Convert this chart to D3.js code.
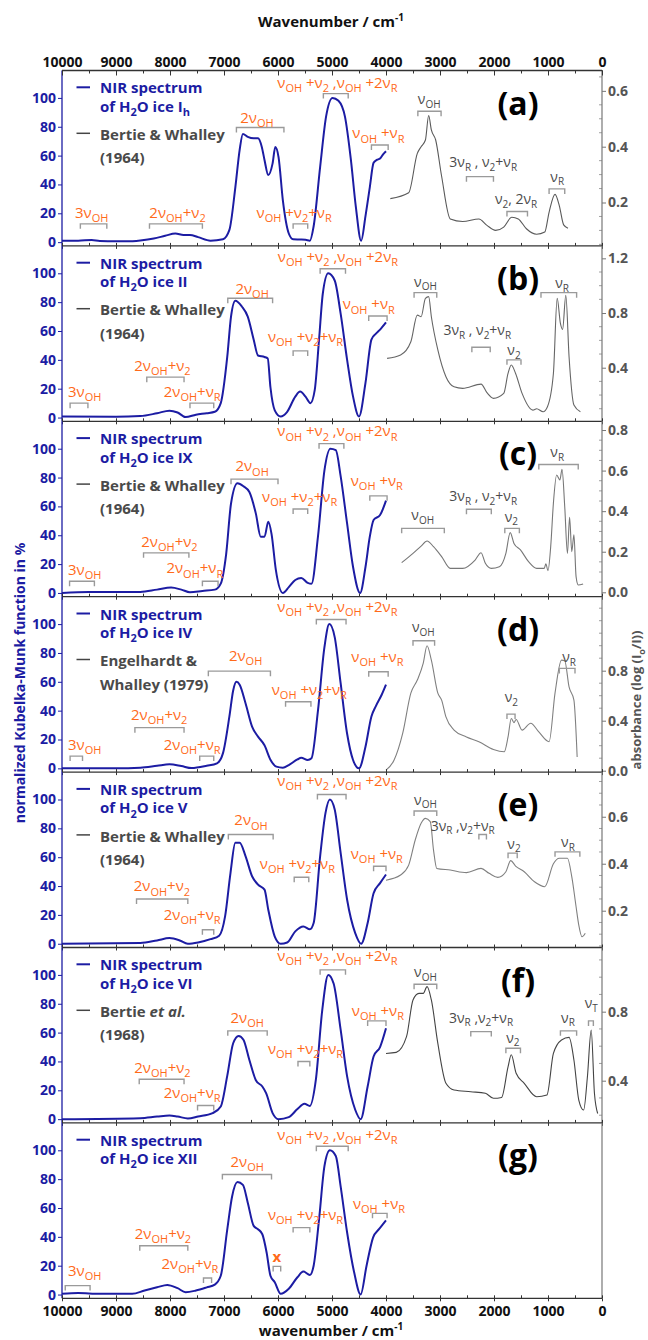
<!DOCTYPE html>
<html><head><meta charset="utf-8">
<script src="https://cdn.jsdelivr.net/npm/d3@7"></script>
<style>body{margin:0;background:#fff}svg{display:block}text{font-family:"Open Sans",sans-serif;white-space:pre}</style>
</head><body><svg id="c" width="648" height="1340"></svg>
<script>
// ---------- DATA ----------
const wavenumberTicks = [10000,9000,8000,7000,6000,5000,4000,3000,2000,1000,0];
const kmTicks = [0,20,40,60,80,100];
const panelLetters = ["(a)","(b)","(c)","(d)","(e)","(f)","(g)"];
const iceNames = ["I_{h}","II","IX","IV","V","VI","XII"];
const refNames = [["Bertie & Whalley","(1964)"],["Bertie & Whalley","(1964)"],["Bertie & Whalley","(1964)"],["Engelhardt &","Whalley (1979)"],["Bertie & Whalley","(1964)"],["Bertie *et al.*","(1968)"],null];

const nirA=[[10000,1],[9700,1],[9450,1.5],[9300,0.8],[9000,0.6],[8800,0.6],[8550,1.2],[8300,2.5],[8090,4.4],[7900,6],[7750,5],[7630,5],[7480,3.5],[7250,1],[7020,2],[6900,8.5],[6790,38],[6710,64],[6650,75],[6560,73],[6450,72],[6370,72],[6300,66],[6250,57],[6180,46.5],[6100,54.6],[6050,66],[5990,59],[5910,29],[5800,6],[5720,2],[5600,1.8],[5490,1.6],[5410,1],[5340,11],[5220,52],[5110,87],[4990,100],[4880,98],[4760,87],[4650,57],[4560,25],[4460,1],[4380,18],[4300,38],[4230,55],[4170,57],[4110,58],[4050,61],[4000,63]];
const nirB=[[10000,0.7],[9000,0.5],[8550,1],[8240,3],[8010,4.8],[7860,3.5],[7710,0.3],[7520,2],[7320,3],[7170,4],[7060,10],[6940,42],[6870,70],[6790,81],[6670,77],[6560,70],[6450,54],[6370,43],[6250,42],[6190,41],[6140,21],[6060,5],[5950,0.7],[5830,4],[5680,14.5],[5590,18],[5490,14.5],[5400,10],[5320,19],[5240,54],[5170,86],[5070,100],[4950,95],[4840,72],[4720,40],[4610,14.5],[4500,0.7],[4380,24],[4270,54],[4190,58],[4110,61],[4000,66]];
const nirC=[[10000,0],[9500,0.7],[8550,0.7],[8240,2.3],[7980,3.7],[7790,2.3],[7630,0.5],[7400,1.4],[7170,2.3],[7060,6.5],[6960,27],[6870,62],[6750,76],[6640,74],[6530,70],[6410,55],[6320,39],[6250,39],[6180,49.4],[6120,41],[6040,16],[5910,0],[5800,4],[5680,9],[5570,10.4],[5450,7],[5380,6.3],[5260,39],[5140,85],[5030,100],[4930,99],[4840,81],[4720,48],[4610,18],[4480,0],[4380,18],[4300,39],[4230,50.6],[4110,54],[4000,64]];
const nirD=[[10000,0],[9000,0],[8550,0.5],[8240,1.8],[8010,2.8],[7790,1.6],[7600,0.2],[7320,1.8],[7130,3.5],[7020,10.4],[6900,36],[6830,54],[6770,60],[6710,58],[6600,45],[6480,29],[6370,22],[6250,16],[6140,6],[6030,1.2],[5910,0.5],[5800,2.3],[5640,6.2],[5570,7.4],[5450,5.8],[5380,7],[5260,40],[5140,84],[5050,100],[4950,91],[4840,59],[4720,24],[4610,5.8],[4500,0],[4380,15],[4270,36],[4190,43],[4080,51],[4000,58]];
const nirE=[[10000,0],[8550,0.5],[8240,2.3],[8010,3.9],[7820,2.3],[7670,0],[7480,0.9],[7250,3.2],[7090,5.6],[6980,19],[6880,49],[6790,70],[6710,70],[6600,60.6],[6480,46.8],[6370,41],[6250,37.5],[6180,23.6],[6060,5],[5950,0],[5830,0.9],[5680,8.6],[5530,12],[5410,10],[5340,14.4],[5220,60.6],[5120,90.7],[5040,100],[4950,93],[4840,63],[4720,30.5],[4570,7.4],[4460,0],[4340,14.4],[4230,35],[4110,42],[4000,48]];
const nirF=[[10000,0],[8550,0.7],[8240,1.8],[8010,2.5],[7860,1.8],[7670,0.5],[7480,1.8],[7210,4.2],[7060,8.8],[6940,30],[6830,52.6],[6730,57.7],[6640,55],[6530,41],[6410,27],[6290,22.6],[6220,18],[6100,4.2],[5990,0],[5800,1.4],[5640,7],[5510,10.6],[5410,9.2],[5300,27],[5180,75.8],[5070,100],[4970,94],[4840,62],[4720,29.6],[4570,6.5],[4470,0],[4340,22.6],[4230,43.4],[4110,50],[4000,63]];
const nirG=[[10000,0.5],[9700,1],[9300,0.5],[8700,0.5],[8470,2.8],[8240,5],[8050,6.7],[7860,4.4],[7710,1.6],[7520,2.8],[7320,5],[7170,6.9],[7060,13],[6940,45],[6850,68],[6750,78],[6650,76],[6560,63.7],[6450,47.6],[6370,45.3],[6290,41.8],[6210,29],[6140,13],[6060,8.5],[5950,0.5],[5800,4],[5640,12],[5530,15.9],[5410,13.6],[5340,20],[5240,52],[5140,89],[5040,100],[4930,96],[4840,75],[4720,43],[4590,15.4],[4470,0],[4360,20],[4240,39.5],[4130,45.3],[4000,51.5]];

const refA=[[3920,0.214],[3580,0.235],[3420,0.376],[3350,0.4],[3270,0.424],[3210,0.512],[3160,0.46],[3080,0.424],[2970,0.294],[2810,0.141],[2580,0.132],[2280,0.141],[2130,0.118],[1970,0.1],[1820,0.112],[1670,0.147],[1550,0.141],[1400,0.106],[1210,0.086],[1060,0.094],[980,0.165],[870,0.229],[790,0.188],[710,0.12],[630,0.108]];
const refB=[[3980,0.468],[3730,0.493],[3540,0.59],[3420,0.785],[3350,0.773],[3270,0.907],[3210,0.92],[3160,0.773],[3040,0.53],[2890,0.334],[2740,0.26],[2580,0.249],[2240,0.28],[2130,0.217],[2010,0.176],[1820,0.212],[1740,0.358],[1680,0.42],[1600,0.358],[1480,0.212],[1280,0.09],[1210,0.1],[1090,0.078],[1010,0.115],[900,0.358],[830,0.907],[770,0.724],[730,0.68],[670,0.93],[610,0.48],[520,0.127],[400,0.078]];
const refC=[[3710,0.146],[3500,0.192],[3350,0.228],[3240,0.253],[3120,0.225],[2970,0.176],[2810,0.118],[2580,0.118],[2350,0.159],[2240,0.195],[2160,0.143],[2050,0.118],[1900,0.126],[1780,0.192],[1700,0.294],[1630,0.241],[1510,0.209],[1360,0.151],[1210,0.118],[1070,0.118],[1040,0.14],[1000,0.107],[950,0.225],[900,0.439],[840,0.578],[780,0.554],[740,0.606],[690,0.422],[640,0.192],[600,0.37],[560,0.2],[520,0.283],[480,0.077],[440,0.036],[350,0.041]];
const refD=[[4000,0.005],[3850,0.085],[3690,0.3],[3540,0.62],[3420,0.725],[3310,0.86],[3240,1.0],[3160,0.885],[3040,0.62],[2970,0.565],[2890,0.43],[2740,0.325],[2510,0.27],[2280,0.232],[2010,0.17],[1810,0.152],[1740,0.27],[1680,0.418],[1630,0.384],[1590,0.41],[1480,0.325],[1320,0.38],[1170,0.31],[980,0.232],[870,0.62],[750,0.885],[690,0.88],[610,0.67],[520,0.565],[460,0.11]];
const refE=[[4000,0.33],[3730,0.352],[3580,0.394],[3460,0.5],[3350,0.572],[3270,0.593],[3180,0.579],[3120,0.458],[3060,0.38],[2810,0.373],[2510,0.362],[2240,0.38],[2090,0.359],[1930,0.342],[1780,0.366],[1690,0.413],[1600,0.39],[1440,0.366],[1250,0.323],[1060,0.302],[900,0.4],[790,0.423],[640,0.423],[560,0.345],[480,0.217],[430,0.139],[370,0.089],[310,0.104]];
const refF=[[4000,0.558],[3810,0.564],[3620,0.655],[3500,0.868],[3390,0.906],[3310,0.906],[3240,0.945],[3160,0.868],[3040,0.616],[2890,0.385],[2740,0.346],[2430,0.336],[2160,0.327],[2010,0.298],[1860,0.303],[1740,0.48],[1680,0.55],[1590,0.443],[1440,0.385],[1210,0.307],[1020,0.317],[900,0.558],[750,0.636],[610,0.651],[520,0.52],[430,0.288],[340,0.23],[270,0.423],[200,0.694],[140,0.327],[80,0.21]];

const absDomains=[[0.0445,0.673],[0.008,1.291],[-0.0217,0.843],[-0.0112,1.392],[0.0434,0.79],[0.1554,1.172],null];
const absTicks=[[0.2,0.4,0.6],[0.4,0.8,1.2],[0,0.2,0.4,0.6,0.8],[0,0.4,0.8],[0.2,0.4,0.6],[0.4,0.8],null];
const absMinorStep=[0.05,0.1,0.05,0.1,0.05,0.1,null];

// annotations: [label, centre wavenumber, baseline value (KM scale), bracket w1, bracket w2, bracket value, assignment source]
const annA=[["3ν_{OH}",9450,16.6,9660,9170,12.7,"nir"],["2ν_{OH}+ν_{2}",7860,16.6,8380,7400,12.7,"nir"],["ν_{OH} +ν_{2}+ν_{R}",5700,16.6,5720,5450,12.7,"nir"],["2ν_{OH}",6390,82.7,6770,5890,79.5,"nir"],["ν_{OH} +ν_{2} ,ν_{OH} +2ν_{R}",4900,107,5160,4700,103,"nir"],["ν_{OH} +ν_{R}",4140,71.9,4270,3960,67.3,"nir"],
  ["ν_{OH}",3200,95.6,3410,2980,90.8,"ref"],["3ν_{R} , ν_{2}+ν_{R}",2200,52.3,2510,2010,45.4,"ref"],["ν_{2}, 2ν_{R}",1590,26.5,1760,1380,21.2,"ref"],["ν_{R}",830,42,980,690,36.9,"ref"]];
const annB=[["3ν_{OH}",9580,14.5,9850,9520,10,"nir"],["2ν_{OH}+ν_{2}",8140,32.3,8430,7740,28,"nir"],["2ν_{OH}+ν_{R}",7590,14.5,7630,7190,10,"nir"],["2ν_{OH}",6480,86,6930,6100,82.7,"nir"],["ν_{OH} +ν_{2}+ν_{R}",5490,52.7,5720,5450,46.2,"nir"],["ν_{OH} +ν_{2} ,ν_{OH} +2ν_{R}",4890,108,5220,4750,103.2,"nir"],["ν_{OH} +ν_{R}",4320,75,4320,3980,70.4,"nir"],
  ["ν_{OH}",3270,90.8,3480,3060,86.6,"ref"],["3ν_{R} , ν_{2}+ν_{R}",2310,57.3,2410,2070,48.7,"ref"],["ν_{2}",1630,43.4,1760,1500,40,"ref"],["ν_{R}",740,90,1130,470,86.6,"ref"]];
const annC=[["3ν_{OH}",9580,12.3,9860,9400,8.1,"nir"],["2ν_{OH}+ν_{2}",8010,32,8490,7650,27.8,"nir"],["2ν_{OH}+ν_{R}",7540,13.5,7400,7110,8.1,"nir"],["2ν_{OH}",6480,84.2,6870,6000,78.9,"nir"],["ν_{OH} +ν_{2}+ν_{R}",5600,63.3,5720,5450,58.2,"nir"],["ν_{OH} +ν_{2} ,ν_{OH} +2ν_{R}",4900,108.5,5240,4780,103.5,"nir"],["ν_{OH} +ν_{R}",4170,74.2,4300,3980,67.3,"nir"],
  ["ν_{OH}",3320,50.6,3710,2920,44.8,"ref"],["3ν_{R} , ν_{2}+ν_{R}",2200,63.5,2510,2050,58,"ref"],["ν_{2}",1680,49.5,1800,1530,44.8,"ref"],["ν_{R}",830,94.2,1170,440,89,"ref"]];
const annD=[["3ν_{OH}",9580,12.7,9850,9620,8.5,"nir"],["2ν_{OH}+ν_{2}",8200,33.5,8650,7740,28.2,"nir"],["2ν_{OH}+ν_{R}",7590,12.7,7450,7190,8.5,"nir"],["2ν_{OH}",6600,74.6,7290,6140,67.4,"nir"],["ν_{OH} +ν_{2}+ν_{R}",5420,50.8,5860,5390,46.2,"nir"],["ν_{OH} +ν_{2} ,ν_{OH} +2ν_{R}",4900,108.5,5290,4740,103.2,"nir"],["ν_{OH} +ν_{R}",4160,73.9,4320,3960,67,"nir"],
  ["ν_{OH}",3310,94.2,3500,3100,88.5,"ref"],["ν_{2}",1680,46.2,1760,1610,37.6,"ref"],["ν_{R}",610,73.9,790,500,69.3,"ref"]];
const annE=[["2ν_{OH}+ν_{2}",8150,36.3,8620,7670,31,"nir"],["2ν_{OH}+ν_{R}",7590,16.7,7400,7190,9.7,"nir"],["2ν_{OH}",6500,82,6920,6090,75.7,"nir"],["ν_{OH} +ν_{2}+ν_{R}",5640,51.9,5700,5430,46.1,"nir"],["ν_{OH} +ν_{2} ,ν_{OH} +2ν_{R}",4900,109.5,5270,4740,103.5,"nir"],["ν_{OH} +ν_{R}",4170,59,4230,4000,53.7,"nir"],
  ["ν_{OH}",3270,96.5,3480,3060,92,"ref"],["3ν_{R} ,ν_{2}+ν_{R}",2580,78.5,2280,2140,75.7,"ref"],["ν_{2}",1630,66,1740,1570,62.8,"ref"],["ν_{R}",630,67.1,870,410,63.7,"ref"]];
const annF=[["2ν_{OH}+ν_{2}",8140,31.9,8570,7740,27.7,"nir"],["2ν_{OH}+ν_{R}",7590,14.5,7490,7190,9.5,"nir"],["2ν_{OH}",6570,67,6930,6200,61.2,"nir"],["ν_{OH} +ν_{2}+ν_{R}",5490,45.3,5630,5410,40,"nir"],["ν_{OH} +ν_{2} ,ν_{OH} +2ν_{R}",4900,109.5,5220,4750,103.5,"nir"],["ν_{OH} +ν_{R}",4150,71.6,4340,4000,68.1,"nir"],
  ["ν_{OH}",3270,98.4,3480,3060,93.5,"ref"],["3ν_{R} ,ν_{2}+ν_{R}",2240,67,2430,2050,60.7,"ref"],["ν_{2}",1650,53.1,1780,1510,49.2,"ref"],["ν_{R}",630,67,770,470,61.2,"ref"],["ν_{T}",200,76.9,250,160,68.1,"ref"]];
const annG=[["3ν_{OH}",9580,13.1,9940,9480,6.2,"nir"],["2ν_{OH}+ν_{2}",8130,38.4,8560,7670,33.8,"nir"],["2ν_{OH}+ν_{R}",7630,17.7,7380,7230,11.5,"nir"],["2ν_{OH}",6570,88.5,7030,6120,83.2,"nir"],["x",6020,22.8,6090,5950,19.5,"nir"],["ν_{OH} +ν_{2}+ν_{R}",5490,51.7,5720,5410,46.4,"nir"],["ν_{OH} +ν_{2} ,ν_{OH} +2ν_{R}",4900,107,5290,4700,102.8,"nir"],["ν_{OH} +ν_{R}",4130,59.5,4250,3980,56.3,"nir"]];

const nirSeries=[nirA,nirB,nirC,nirD,nirE,nirF,nirG];
const refSeries=[refA,refB,refC,refD,refE,refF,null];
const annotations=[annA,annB,annC,annD,annE,annF,annG];

// ---------- DRAW ----------
const BLUE="#1c1ca3", ORANGE="#ff6a1a", GREYTXT="#4a4a4a";
const refColors=["#5a5a5a","#666","#777","#808080","#808080","#444"];
const svg=d3.select("#c");
const L=62,R=602,T=70.5,PH=175.4;
const x=d3.scaleLinear().domain([10000,0]).range([L,R]);
const fmtW=d3.format("d");

function rich(sel,str,size,sub){
  const re=/([_^])\{([^}]*)\}|\*([^*]*)\*/g; let last=0,m,parts=[];
  while((m=re.exec(str))){ if(m.index>last) parts.push({t:str.slice(last,m.index),k:""});
    if(m[3]!==undefined) parts.push({t:m[3],k:"i"}); else parts.push({t:m[2],k:m[1]}); last=re.lastIndex; }
  if(last<str.length) parts.push({t:str.slice(last),k:""});
  let cur=0;
  parts.forEach(p=>{const tgt=p.k==="_"?size*0.28:p.k==="^"?-size*0.42:0;
    const ts=sel.append("tspan").attr("dy",tgt-cur).attr("font-size",(p.k==="_"||p.k==="^")?sub:size).text(p.t);
    if(p.k==="i") ts.attr("font-style","italic");
    cur=tgt;});
}

nirSeries.forEach((nir,i)=>{
  const y0=T+i*PH, y1=y0+PH;
  const yL=d3.scaleLinear().domain([-2.6,119]).range([y1,y0]);
  const g=svg.append("g");
  const cid="clip"+i;
  svg.append("clipPath").attr("id",cid).append("rect").attr("x",L).attr("y",y0).attr("width",R-L).attr("height",PH);

  if(refSeries[i]){
    const yR=d3.scaleLinear().domain(absDomains[i]).range([y1,y0]);
    g.append("path").datum(refSeries[i]).attr("clip-path",`url(#${cid})`)
      .attr("fill","none").attr("stroke",refColors[i]).attr("stroke-width",1.1)
      .attr("d",d3.line().x(d=>x(d[0])).y(d=>yR(d[1])).curve(d3.curveMonotoneX));
    const ax=g.append("g").attr("transform",`translate(${R},0)`)
      .call(d3.axisRight(yR).tickValues(absTicks[i]).tickFormat(d3.format(".1f")).tickSize(4).tickPadding(2));
    ax.select(".domain").remove();
    ax.selectAll("line").attr("stroke","#777");
    ax.selectAll("text").attr("fill","#555").attr("font-weight","bold").attr("font-size",14).attr("font-family","Open Sans");
    const st=absMinorStep[i], dmn=absDomains[i];
    const minors=d3.range(Math.ceil(dmn[0]/st)*st,dmn[1],st).filter(v=>!absTicks[i].some(t=>Math.abs(t-v)<1e-6));
    g.selectAll(null).data(minors).join("line").attr("x1",R-3).attr("x2",R)
      .attr("y1",d=>yR(d)).attr("y2",d=>yR(d)).attr("stroke","#888").attr("stroke-width",0.8);
  }

  g.append("path").datum(nir).attr("clip-path",`url(#${cid})`)
    .attr("fill","none").attr("stroke",BLUE).attr("stroke-width",2)
    .attr("d",d3.line().x(d=>x(d[0])).y(d=>yL(d[1])).curve(d3.curveMonotoneX));

  annotations[i].forEach(a=>{
    const [lab,wc,vb,w1,w2,vbr,src]=a;
    const by=yL(vbr);
    g.append("path").attr("d",`M${x(w1)},${by+5}V${by}H${x(w2)}V${by+5}`)
      .attr("fill","none").attr("stroke","#9a9a9a").attr("stroke-width",1.4);
    const t=g.append("text").attr("x",x(wc)).attr("y",yL(vb)).attr("text-anchor","middle")
      .attr("fill",src==="nir"?ORANGE:GREYTXT).attr("font-weight",lab==="x"?"bold":"normal");
    if(src==="nir") rich(t,lab,15,11); else rich(t,lab,14,10);
  });

  g.append("line").attr("x1",76.5).attr("x2",90).attr("y1",y0+16.8).attr("y2",y0+16.8).attr("stroke",BLUE).attr("stroke-width",2);
  g.append("text").attr("x",100).attr("y",y0+22.8).attr("fill",BLUE).attr("font-weight","bold").attr("font-size",15).text("NIR spectrum");
  const t2=g.append("text").attr("x",100).attr("y",y0+41.2).attr("fill",BLUE).attr("font-weight","bold");
  rich(t2,"of H_{2}O ice "+iceNames[i],15,11);
  if(refNames[i]){
    g.append("line").attr("x1",76.5).attr("x2",90).attr("y1",y0+62.8).attr("y2",y0+62.8).attr("stroke","#444").attr("stroke-width",1.5);
    const t3=g.append("text").attr("x",100).attr("y",y0+69.5).attr("fill",GREYTXT).attr("font-weight","bold");
    rich(t3,refNames[i][0],15,11);
    g.append("text").attr("x",100).attr("y",y0+92.8).attr("fill",GREYTXT).attr("font-weight","bold").attr("font-size",15).text(refNames[i][1]);
  }
  g.append("text").attr("x",518).attr("y",y0+44).attr("text-anchor","middle").attr("font-weight","bold").attr("font-size",32).attr("fill","#000").text(panelLetters[i]);

  const la=g.append("g").attr("transform",`translate(${L},0)`).call(d3.axisLeft(yL).tickValues(kmTicks).tickSize(4).tickPadding(2));
  la.select(".domain").remove();
  la.selectAll("line").attr("stroke",BLUE);
  la.selectAll("text").attr("fill",BLUE).attr("font-weight","bold").attr("font-size",14).attr("font-family","Open Sans");

  g.append("line").attr("x1",L).attr("x2",L).attr("y1",y0).attr("y2",y1).attr("stroke",BLUE).attr("stroke-width",1.3);
  g.append("line").attr("x1",R).attr("x2",R).attr("y1",y0).attr("y2",y1).attr("stroke","#777").attr("stroke-width",1.2);
  g.append("line").attr("x1",L).attr("x2",R).attr("y1",y1).attr("y2",y1).attr("stroke","#333").attr("stroke-width",1.3);
  const xt=g.append("g").attr("transform",`translate(0,${y1})`)
    .call(d3.axisBottom(x).tickValues(d3.range(0,10001,500)).tickSize(-3).tickFormat(""));
  xt.select(".domain").remove(); xt.selectAll("line").attr("stroke","#333");
  const xt2=g.append("g").attr("transform",`translate(0,${y1})`)
    .call(d3.axisBottom(x).tickValues(d3.range(0,10001,1000)).tickSize(3).tickFormat(""));
  xt2.select(".domain").remove(); xt2.selectAll("line").attr("stroke","#333");
});

svg.append("line").attr("x1",L).attr("x2",R).attr("y1",T).attr("y2",T).attr("stroke","#333").attr("stroke-width",1.3);
const ta=svg.append("g").attr("transform",`translate(0,${T})`).call(d3.axisTop(x).tickValues(wavenumberTicks).tickFormat(fmtW).tickSize(0).tickPadding(4));
ta.select(".domain").remove();
ta.selectAll("text").attr("fill","#111").attr("font-weight","bold").attr("font-size",14).attr("font-family","Open Sans");
const tt=svg.append("g").attr("transform",`translate(0,${T})`).call(d3.axisBottom(x).tickValues(d3.range(0,10001,500)).tickSize(3).tickFormat(""));
tt.select(".domain").remove(); tt.selectAll("line").attr("stroke","#333");
const tt2=svg.append("g").attr("transform",`translate(0,${T})`).call(d3.axisBottom(x).tickValues(d3.range(0,10001,1000)).tickSize(5).tickFormat(""));
tt2.select(".domain").remove(); tt2.selectAll("line").attr("stroke","#333");

const bY=T+7*PH;
const ba=svg.append("g").attr("transform",`translate(0,${bY})`).call(d3.axisBottom(x).tickValues(wavenumberTicks).tickFormat(fmtW).tickSize(0).tickPadding(8));
ba.select(".domain").remove();
ba.selectAll("text").attr("fill","#111").attr("font-weight","bold").attr("font-size",14).attr("font-family","Open Sans");

const tTop=svg.append("text").attr("x",331).attr("y",27).attr("text-anchor","middle").attr("font-weight","bold").attr("font-size",15).attr("fill","#111");
rich(tTop,"Wavenumber / cm^{-1}",15,10);
const tBot=svg.append("text").attr("x",331).attr("y",1336).attr("text-anchor","middle").attr("font-weight","bold").attr("font-size",15).attr("fill","#111");
rich(tBot,"wavenumber / cm^{-1}",15,10);
const tL=svg.append("text").attr("transform","translate(25,683) rotate(-90)").attr("text-anchor","middle").attr("font-weight","bold").attr("fill",BLUE);
rich(tL,"normalized Kubelka-Munk function in %",14,10);
const tR=svg.append("text").attr("transform","translate(641,700) rotate(-90)").attr("text-anchor","middle").attr("font-weight","bold").attr("fill","#555");
rich(tR,"absorbance (log (I_{o}/I))",13,9);
</script></body></html>
